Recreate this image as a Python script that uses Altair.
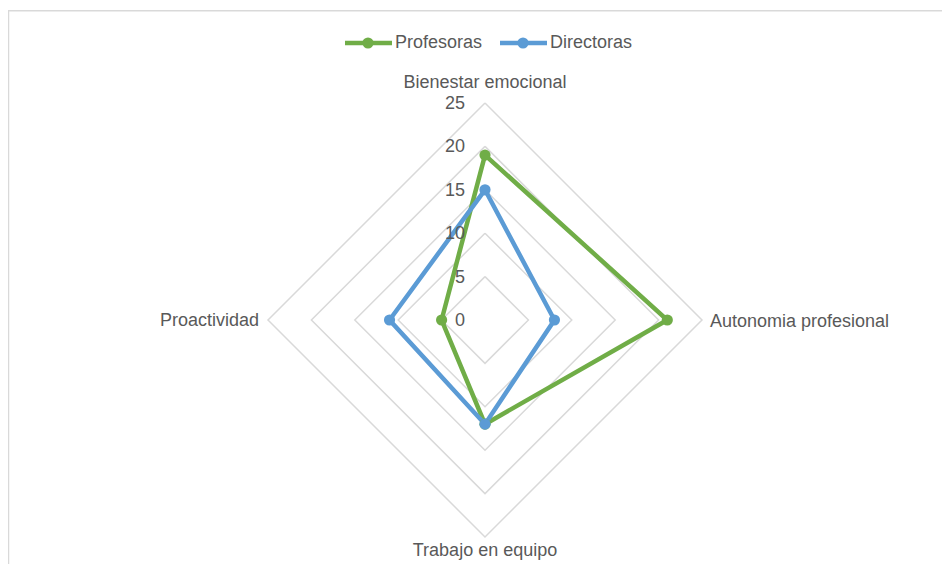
import altair as alt
import pandas as pd

# ---- data ----
categories = ["Bienestar emocional", "Autonomia profesional", "Trabajo en equipo", "Proactividad"]
series_names = ["Profesoras", "Directoras"]
profesoras = [19, 21, 12, 5]
directoras = [15, 8, 12, 11]
ring_values = [5, 10, 15, 20, 25]
tick_values = [0, 5, 10, 15, 20, 25]

# ---- styles / layout ----
series_colors = ["#70ad47", "#5b9bd5"]
GRID = "#d9d9d9"
TEXT = "#595959"
FONT = "Liberation Sans"
FS = 18
W, H = 934, 556
PX = 8.68
CX, CY = 477, 312
xscale = alt.Scale(domain=[-CX / PX, (W - CX) / PX], nice=False, zero=False)
yscale = alt.Scale(domain=[-(H - CY) / PX, CY / PX], nice=False, zero=False)
RMAX = max(ring_values)


def xy(base):
    return base.transform_calculate(
        ang="(datum.k % 4) * PI / 2"
    ).transform_calculate(
        px="datum.r * sin(datum.ang)",
        py="datum.r * cos(datum.ang)",
    )

# series table (closed polygons)
rows = []
for s, vals in zip(series_names, [profesoras, directoras]):
    for k in range(len(categories) + 1):
        rows.append({"series": s, "k": k, "r": vals[k % len(categories)]})
series_df = pd.DataFrame(rows)

# grid rings
grid_rows = []
for rv in ring_values:
    for k in range(len(categories) + 1):
        grid_rows.append({"ring": rv, "k": k, "r": rv})
grid_df = pd.DataFrame(grid_rows)

X = alt.X("px:Q", scale=xscale, axis=None)
Y = alt.Y("py:Q", scale=yscale, axis=None)

grid = xy(alt.Chart(grid_df)).mark_line(color=GRID, strokeWidth=1.5).encode(
    x=X, y=Y, detail="ring:N", order="k:Q"
)

ticks_df = pd.DataFrame({"r": tick_values, "k": [0] * len(tick_values)})
ticks = xy(alt.Chart(ticks_df)).mark_text(
    align="right", baseline="alphabetic", dx=-20, dy=6, font=FONT, fontSize=FS, color=TEXT
).encode(x=X, y=Y, text="r:Q")

color_scale = alt.Scale(domain=series_names, range=series_colors)
lines = xy(alt.Chart(series_df)).mark_line(strokeWidth=4.5).encode(
    x=X, y=Y, order="k:Q",
    color=alt.Color("series:N", scale=color_scale, legend=None),
)
pts = xy(alt.Chart(series_df[series_df.k < len(categories)])).mark_point(
    filled=True, size=125, opacity=1
).encode(
    x=X, y=Y,
    color=alt.Color("series:N", scale=color_scale, legend=None),
)

# category labels
label_style = [
    dict(align="center", dx=0, dy=-15),
    dict(align="left", dx=8, dy=7),
    dict(align="center", dx=0, dy=19),
    dict(align="right", dx=-9, dy=6),
]
label_layers = []
for k, (cat, st) in enumerate(zip(categories, label_style)):
    df = pd.DataFrame({"cat": [cat], "k": [k], "r": [RMAX]})
    label_layers.append(
        xy(alt.Chart(df)).mark_text(
            baseline="alphabetic", font=FONT, fontSize=FS, color=TEXT, **st
        ).encode(x=X, y=Y, text="cat:N")
    )

# legend (manual, Excel style: line with dot)
legend_layers = []
for i, (name, col) in enumerate(zip(series_names, series_colors)):
    off = 155 * i
    d = pd.DataFrame({"name": [name]})
    base = alt.Chart(d)
    legend_layers.append(
        base.mark_rule(color=col, strokeWidth=4.5).encode(
            x=alt.value(337 + off), x2=alt.value(384 + off), y=alt.value(35)
        )
    )
    legend_layers.append(
        base.mark_point(filled=True, size=125, opacity=1, color=col).encode(
            x=alt.value(360 + off), y=alt.value(35)
        )
    )
    legend_layers.append(
        base.mark_text(align="left", baseline="alphabetic", font=FONT, fontSize=FS, color=TEXT).encode(
            x=alt.value(387 + off), y=alt.value(40), text="name:N"
        )
    )

# frame (top and left border as in the reference)
fd = pd.DataFrame({"a": [0]})
frame_top = alt.Chart(fd).mark_rule(color=GRID, strokeWidth=1.5).encode(
    x=alt.value(0), x2=alt.value(W + 8), y=alt.value(2.7)
)
frame_left = alt.Chart(fd).mark_rule(color=GRID, strokeWidth=1.5).encode(
    x=alt.value(0.5), y=alt.value(2.7), y2=alt.value(H + 8)
)

chart = alt.layer(
    frame_top, frame_left, grid, lines, pts, ticks, *label_layers, *legend_layers
).properties(
    width=W, height=H, padding=0, autosize=alt.AutoSizeParams(type="none")
).configure_view(stroke=None)

chart.save("out.html", embed_options={"renderer": "svg", "actions": False})
